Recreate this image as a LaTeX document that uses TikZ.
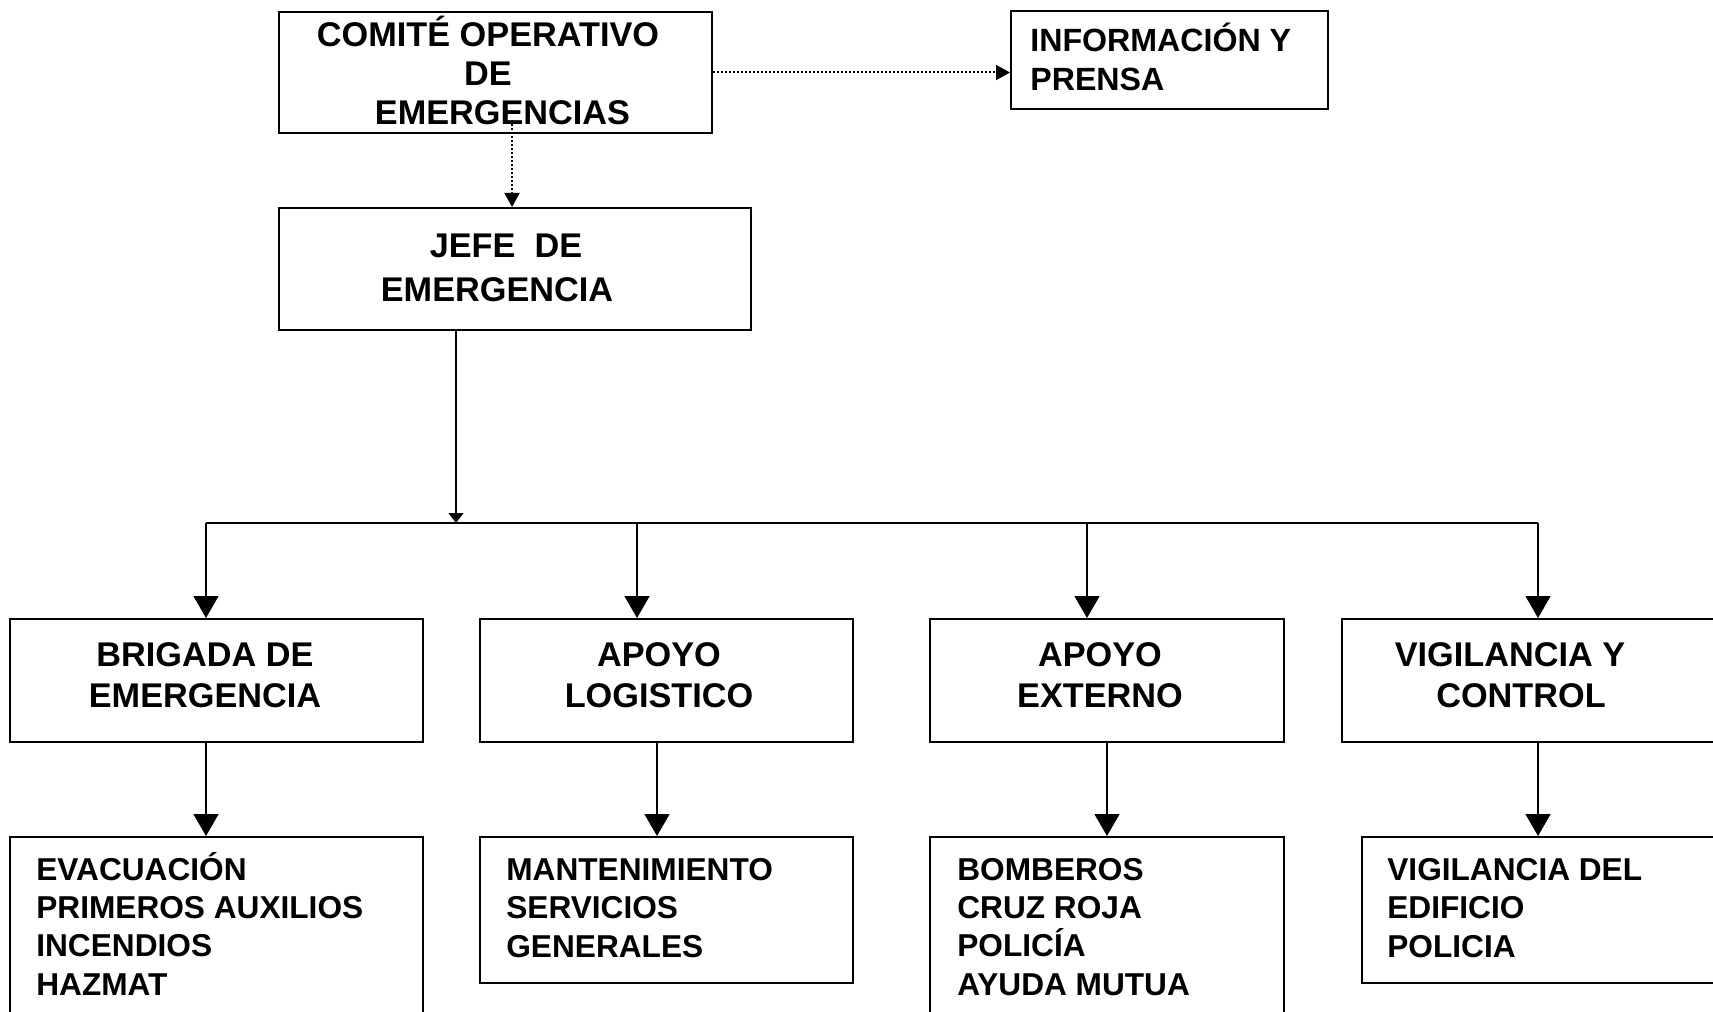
\documentclass[tikz,border=0pt]{standalone}
\usepackage{fontspec}
\setmainfont{Liberation Sans}
\usetikzlibrary{arrows.meta,calc,fit}

\begin{document}
\begin{tikzpicture}[x=0.2mm, y=-0.2mm,
  box/.style={draw, line width=0.4mm, inner sep=0pt, fit={#1}},
  lbl/.style={inner sep=0pt, align=center, anchor=base, font=\bfseries\fontsize{19.5}{#1}\selectfont},
  lbl/.default=22.8,
  lst/.style={inner sep=0pt, align=left, anchor=base west, font=\bfseries\fontsize{18}{#1}\selectfont},
  lst/.default=21.8,
  line/.style={line width=0.3mm},
  arr/.style={line, -{Triangle[width=5mm,length=4.4mm]}},
  dots/.style={line width=0.4mm, dash pattern=on 0.4mm off 0.4mm, -{Triangle[width=3mm,length=2.8mm]}}]
\useasboundingbox (0,0) rectangle (1713,1012);
\clip (0,0) rectangle (1713,1012);

% boxes
\node[box={(279,12) (712,133)}] (com) {};
\node[box={(1011,11) (1328,109)}] (info) {};
\node[box={(279,208) (751,330)}] (jefe) {};
\node[box={(10,619) (423,742)}] (brig) {};
\node[box={(480,619) (853,742)}] (alog) {};
\node[box={(930,619) (1284,742)}] (aext) {};
\node[box={(1342,619) (1760,742)}] (vig) {};
\node[box={(10,837) (423,1060)}] (evac) {};
\node[box={(480,837) (853,983)}] (mant) {};
\node[box={(930,837) (1284,1060)}] (bomb) {};
\node[box={(1362,837) (1760,983)}] (vigd) {};

% texts (base = last line)
\node[lbl=22.2] (comtxt) at (488,125) {COMITÉ OPERATIVO\\DE\\\hspace*{5.8mm}EMERGENCIAS};
\node[lst=22.2, font=\bfseries\fontsize{18.3}{22.2}\selectfont] (infotxt) at (1030,91) {INFORMACIÓN Y\\PRENSA};
\node[lbl=25.6] (jefetxt) at (497,302) {\hspace*{3.6mm}JEFE\ \ DE\\EMERGENCIA};
\node[lbl] (brigtxt) at (205,707) {BRIGADA DE\\EMERGENCIA};
\node[lbl] (alogtxt) at (659,707) {APOYO\\LOGISTICO};
\node[lbl] (aexttxt) at (1100,707) {APOYO\\EXTERNO};
\node[lbl] (vigtxt) at (1510,707) {VIGILANCIA Y\\\hspace*{4.4mm}CONTROL};
\node[lst] (evactxt) at (36,995) {EVACUACIÓN\\PRIMEROS AUXILIOS\\INCENDIOS\\HAZMAT};
\node[lst] (manttxt) at (506,957) {MANTENIMIENTO\\SERVICIOS\\GENERALES};
\node[lst] (bombtxt) at (957,995) {BOMBEROS\\CRUZ ROJA\\POLICÍA\\AYUDA MUTUA};
\node[lst] (vigdtxt) at (1387,957) {VIGILANCIA DEL\\EDIFICIO\\POLICIA};

% connectors
\draw[dots] (com.east) -- (com.east -| info.west);
\draw[dots] ($(com.south)+(16.5,-14)$) coordinate (c1) -- (c1 |- jefe.north);
\coordinate (hub) at (456,523);
\draw[line, -{Triangle[width=3mm,length=2mm]}] (jefe.south -| hub) -- (hub);
\draw[line] (206,523) -- (1538,523);
\foreach \b/\x in {brig/206,alog/637,aext/1087,vig/1538}
  \draw[arr] (\x,523) -- (\x,523 |- \b.north);
\foreach \a/\b/\x in {brig/evac/206,alog/mant/657,aext/bomb/1107,vig/vigd/1538}
  \draw[arr] (\x,0 |- \a.south) -- (\x,0 |- \b.north);
\end{tikzpicture}
\end{document}
